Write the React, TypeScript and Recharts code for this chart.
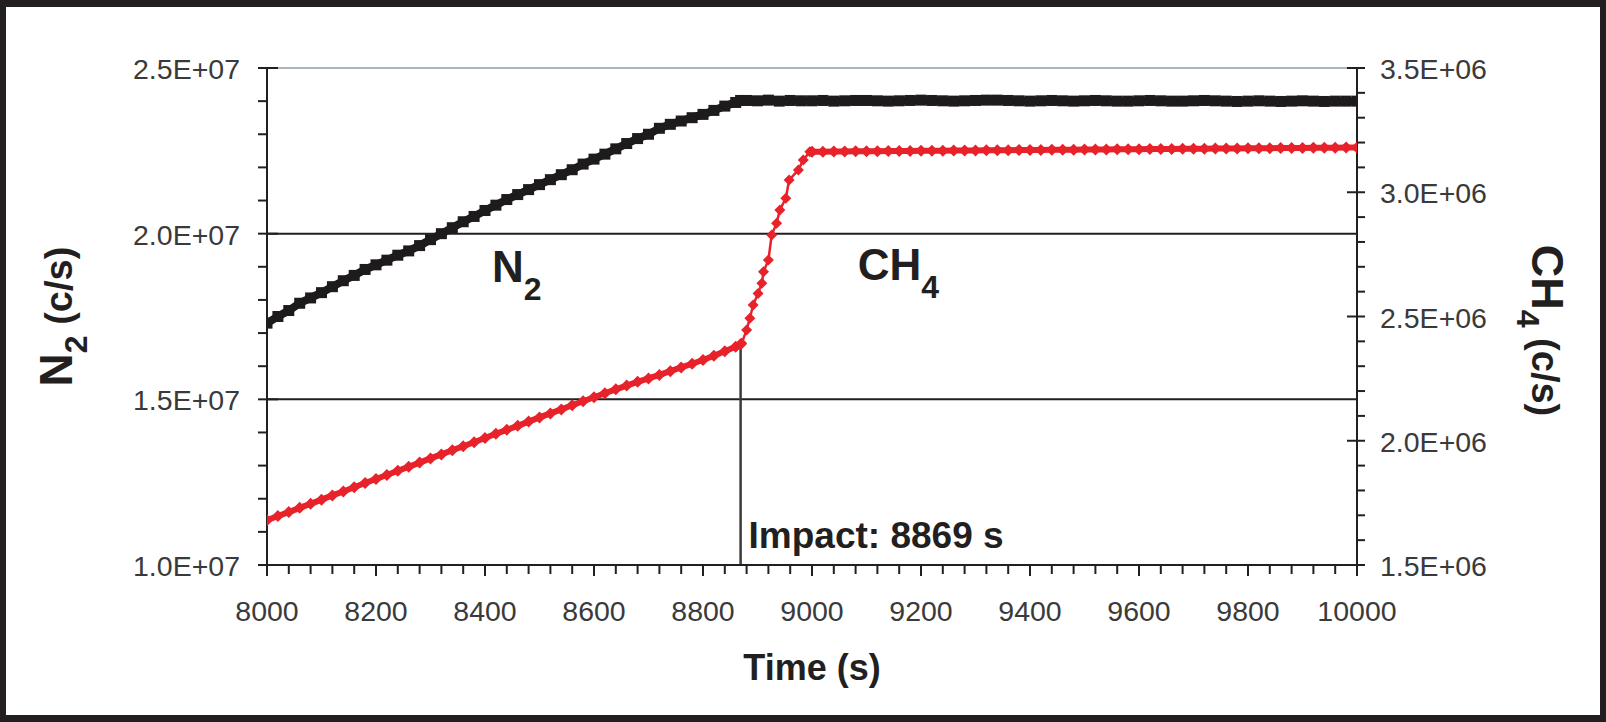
import { LineChart, Line, XAxis, YAxis, CartesianGrid, ReferenceLine, ReferenceDot } from "recharts";

const FONT = '"Liberation Sans", Arial, Helvetica, sans-serif';
const INK = "#231f20";
const TICK_TEXT = "#3a3a3a";
const N2_COLOR = "#1e1b1c";
const CH4_COLOR = "#e8222a";

// sampling times (s)
const sampleTime = [
  8000, 8020, 8040, 8060, 8080, 8100, 8120, 8140, 8160, 8180,
  8200, 8220, 8240, 8260, 8280, 8300, 8320, 8340, 8360, 8380,
  8400, 8420, 8440, 8460, 8480, 8500, 8520, 8540, 8560, 8580,
  8600, 8620, 8640, 8660, 8680, 8700, 8720, 8740, 8760, 8780,
  8800, 8820, 8840, 8860, 8869, 8880, 8900, 8920, 8940, 8960, 8980,
  9000, 9020, 9040, 9060, 9080, 9100, 9120, 9140, 9160, 9180,
  9200, 9220, 9240, 9260, 9280, 9300, 9320, 9340, 9360, 9380,
  9400, 9420, 9440, 9460, 9480, 9500, 9520, 9540, 9560, 9580,
  9600, 9620, 9640, 9660, 9680, 9700, 9720, 9740, 9760, 9780,
  9800, 9820, 9840, 9860, 9880, 9900, 9920, 9940, 9960, 9980,
  10000,
];

// N2 count rate, in units of 1E+07 c/s
const n2E7 = [
  1.730, 1.750, 1.768, 1.790, 1.806, 1.822, 1.840, 1.858, 1.874, 1.892,
  1.906, 1.920, 1.935, 1.948, 1.964, 1.982, 2.000, 2.018, 2.036, 2.052,
  2.070, 2.086, 2.103, 2.118, 2.133, 2.148, 2.163, 2.178, 2.193, 2.210,
  2.225, 2.240, 2.256, 2.272, 2.287, 2.300, 2.318, 2.330, 2.340, 2.350,
  2.360, 2.372, 2.385, 2.396, 2.402, 2.402, 2.401, 2.403, 2.400, 2.402, 2.401,
  2.401, 2.402, 2.400, 2.401, 2.402, 2.402, 2.401, 2.400, 2.401, 2.402,
  2.403, 2.402, 2.401, 2.400, 2.401, 2.402, 2.403, 2.403, 2.402, 2.401,
  2.400, 2.401, 2.402, 2.401, 2.400, 2.401, 2.402, 2.401, 2.400, 2.400,
  2.401, 2.402, 2.401, 2.400, 2.400, 2.401, 2.402, 2.401, 2.400, 2.399,
  2.400, 2.401, 2.400, 2.399, 2.400, 2.401, 2.400, 2.399, 2.400, 2.400,
  2.400,
];

// CH4 count rate, in units of 1E+06 c/s (null where the rise is sampled separately)
const ch4E6 = [
  1.680, 1.697, 1.713, 1.730, 1.746, 1.763, 1.780, 1.796, 1.813, 1.830,
  1.846, 1.862, 1.879, 1.895, 1.912, 1.929, 1.945, 1.962, 1.978, 1.994,
  2.011, 2.028, 2.044, 2.060, 2.077, 2.094, 2.110, 2.126, 2.143, 2.159,
  2.175, 2.191, 2.207, 2.222, 2.237, 2.251, 2.265, 2.280, 2.295, 2.310,
  2.325, 2.342, 2.360, 2.378, 2.388, null, null, null, null, null, null,
  3.163, 3.163, 3.164, 3.164, 3.165, 3.165, 3.165, 3.166, 3.166, 3.166,
  3.167, 3.167, 3.167, 3.168, 3.168, 3.168, 3.169, 3.169, 3.169, 3.170,
  3.170, 3.170, 3.171, 3.171, 3.171, 3.172, 3.172, 3.172, 3.173, 3.173,
  3.173, 3.174, 3.174, 3.174, 3.175, 3.175, 3.175, 3.176, 3.176, 3.176,
  3.177, 3.177, 3.177, 3.178, 3.178, 3.178, 3.179, 3.179, 3.179, 3.180,
  3.180,
];

// CH4 after impact, denser samples
const ch4RiseTime = [8871, 8880, 8886, 8892, 8901, 8908, 8911, 8920, 8926, 8935, 8941, 8952, 8958, 8975, 8984, 8996];
const ch4RiseE6 = [2.392, 2.446, 2.493, 2.546, 2.593, 2.634, 2.680, 2.727, 2.828, 2.875, 2.929, 2.976, 3.049, 3.090, 3.130, 3.163];

const xMajor = [8000, 8200, 8400, 8600, 8800, 9000, 9200, 9400, 9600, 9800, 10000];
const leftMajor = [1.0, 1.5, 2.0, 2.5];
const leftLabels = ["1.0E+07", "1.5E+07", "2.0E+07", "2.5E+07"];
const rightMajor = [1.5, 2.0, 2.5, 3.0, 3.5];
const rightLabels = ["1.5E+06", "2.0E+06", "2.5E+06", "3.0E+06", "3.5E+06"];

const impactTime = 8869;
const plateauStart = 9000;

const withMinor = (major: number[], parts: number) => {
  const out: number[] = [];
  for (let i = 0; i < major.length - 1; i++) {
    const step = (major[i + 1] - major[i]) / parts;
    for (let k = 0; k < parts; k++) out.push(Math.round((major[i] + k * step) * 1000) / 1000);
  }
  out.push(major[major.length - 1]);
  return out;
};

const xTicks = withMinor(xMajor, 5);
const leftTicks = withMinor(leftMajor, 5);
const rightTicks = withMinor(rightMajor, 5);

const findMajor = (list: number[], v: number) => list.findIndex((m) => Math.abs(m - v) < 1e-6);

const n2Data = sampleTime.map((t, i) => ({ t, v: n2E7[i] }));
const ch4All = [
  ...sampleTime.map((t, i) => ({ t, v: ch4E6[i] })).filter((d) => d.v !== null),
  ...ch4RiseTime.map((t, i) => ({ t, v: ch4RiseE6[i] })),
].sort((a, b) => a.t - b.t);
const ch4Before = ch4All.filter((d) => d.t <= impactTime);
const ch4Rise = ch4All.filter((d) => d.t >= impactTime && d.t <= plateauStart);
const ch4After = ch4All.filter((d) => d.t >= plateauStart);
const impactCh4 = ch4Before[ch4Before.length - 1].v as number;

const LeftTick = (props: any) => {
  const { x, y, payload } = props;
  const i = findMajor(leftMajor, payload.value);
  return (
    <g>
      <line x1={x - 9} x2={i >= 0 ? x + 11 : x} y1={y} y2={y} stroke={INK} strokeWidth={2} />
      {i >= 0 && (
        <text x={x - 27} y={y + 11} textAnchor="end" fontFamily={FONT} fontSize={28.5} fill={TICK_TEXT}>
          {leftLabels[i]}
        </text>
      )}
    </g>
  );
};

const RightTick = (props: any) => {
  const { x, y, payload } = props;
  const i = findMajor(rightMajor, payload.value);
  return (
    <g>
      <line x1={i >= 0 ? x - 10 : x} x2={x + 8} y1={y} y2={y} stroke={INK} strokeWidth={2} />
      {i >= 0 && (
        <text x={x + 23} y={y + 11} textAnchor="start" fontFamily={FONT} fontSize={28.5} fill={TICK_TEXT}>
          {rightLabels[i]}
        </text>
      )}
    </g>
  );
};

const BottomTick = (props: any) => {
  const { x, y, payload } = props;
  const i = findMajor(xMajor, payload.value);
  return (
    <g>
      <line x1={x} x2={x} y1={y} y2={y + (i >= 0 ? 11 : 9)} stroke={INK} strokeWidth={2} />
      {i >= 0 && (
        <text x={x} y={y + 56} textAnchor="middle" fontFamily={FONT} fontSize={28.5} fill={TICK_TEXT}>
          {xMajor[i]}
        </text>
      )}
    </g>
  );
};

const SquareDot = (props: any) => {
  const { cx, cy, index } = props;
  if (cx == null || cy == null) return <g key={`n2-${index}`} />;
  return <rect key={`n2-${index}`} x={cx - 5.5} y={cy - 5.5} width={11} height={11} fill={N2_COLOR} />;
};

const makeDiamond = (tag: string, r: number) => (props: any) => {
  const { cx, cy, index } = props;
  if (cx == null || cy == null) return <g key={`${tag}-${index}`} />;
  return (
    <path
      key={`${tag}-${index}`}
      d={`M${cx},${cy - r}L${cx + r},${cy}L${cx},${cy + r}L${cx - r},${cy}Z`}
      fill={CH4_COLOR}
    />
  );
};

const LeftTitle = (props: any) => {
  const vb = props.viewBox || { x: 0, y: 68, width: 267, height: 497 };
  const x = vb.x + 72;
  const y = vb.y + vb.height / 2;
  return (
    <text transform={`rotate(-90, ${x}, ${y})`} x={x} y={y} textAnchor="middle" fontFamily={FONT} fontWeight="bold" fill={INK}>
      <tspan fontSize={46}>N</tspan>
      <tspan fontSize={32} dy={15}>2</tspan>
      <tspan fontSize={38} dy={-15}> (c/s)</tspan>
    </text>
  );
};

const RightTitle = (props: any) => {
  const vb = props.viewBox || { x: 1357, y: 68, width: 249, height: 497 };
  const x = vb.x + 175;
  const y = vb.y + vb.height / 2 + 14;
  return (
    <text transform={`rotate(90, ${x}, ${y})`} x={x} y={y} textAnchor="middle" fontFamily={FONT} fontWeight="bold" fill={INK}>
      <tspan fontSize={45}>CH</tspan>
      <tspan fontSize={32} dy={15}>4</tspan>
      <tspan fontSize={38} dy={-15}> (c/s)</tspan>
    </text>
  );
};

const BottomTitle = (props: any) => {
  const vb = props.viewBox || { x: 267, y: 565, width: 1090, height: 157 };
  return (
    <text x={vb.x + vb.width / 2} y={vb.y + 115} textAnchor="middle" fontFamily={FONT} fontWeight="bold" fontSize={36} fill={INK}>
      Time (s)
    </text>
  );
};

const SeriesLabel = (props: any) => (
  <text x={props.cx} y={props.cy} fontFamily={FONT} fontWeight="bold" fill={INK}>
    <tspan fontSize={44}>{props.main}</tspan>
    <tspan fontSize={32} dy={18}>{props.sub}</tspan>
  </text>
);

const ImpactLabel = (props: any) => (
  <text x={props.cx + 8} y={props.cy} fontFamily={FONT} fontWeight="bold" fontSize={37} fill={INK}>
    Impact: {impactTime} s
  </text>
);

export default function App() {
  return (
    <div style={{ position: "absolute", left: 0, top: 0, width: 1606, height: 722, background: "#fff" }}>
      <div
        style={{
          position: "absolute",
          inset: 0,
          boxSizing: "border-box",
          borderStyle: "solid",
          borderColor: INK,
          borderWidth: "7px 6px 7px 6px",
        }}
      />
      <div style={{ position: "absolute", left: 0, top: 0 }}>
        <LineChart width={1606} height={722} margin={{ top: 68, right: 0, bottom: 0, left: 0 }}>
          <CartesianGrid yAxisId="left" vertical={false} horizontalValues={[1.5, 2.0]} stroke={INK} strokeWidth={2} />
          <CartesianGrid yAxisId="left" vertical={false} horizontalValues={[2.5]} stroke="#8d9ca6" strokeWidth={1.5} />
          <XAxis
            type="number"
            dataKey="t"
            domain={[8000, 10000]}
            ticks={xTicks}
            interval={0}
            height={157}
            tickSize={0}
            tickMargin={0}
            tickLine={false}
            axisLine={{ stroke: INK, strokeWidth: 2 }}
            tick={<BottomTick />}
            allowDataOverflow
            label={{ content: (p: any) => <BottomTitle {...p} /> }}
          />
          <YAxis
            yAxisId="left"
            orientation="left"
            type="number"
            domain={[1.0, 2.5]}
            ticks={leftTicks}
            interval={0}
            width={267}
            tickSize={0}
            tickMargin={0}
            tickLine={false}
            axisLine={{ stroke: INK, strokeWidth: 2 }}
            tick={<LeftTick />}
            allowDataOverflow
            label={{ content: (p: any) => <LeftTitle {...p} /> }}
          />
          <YAxis
            yAxisId="right"
            orientation="right"
            type="number"
            domain={[1.5, 3.5]}
            ticks={rightTicks}
            interval={0}
            width={249}
            tickSize={0}
            tickMargin={0}
            tickLine={false}
            axisLine={{ stroke: INK, strokeWidth: 2 }}
            tick={<RightTick />}
            allowDataOverflow
            label={{ content: (p: any) => <RightTitle {...p} /> }}
          />
          <ReferenceLine
            yAxisId="right"
            segment={[
              { x: impactTime, y: 1.5 },
              { x: impactTime, y: impactCh4 },
            ]}
            stroke="#3a3a3a"
            strokeWidth={2.5}
          />
          <Line
            yAxisId="left"
            data={n2Data}
            dataKey="v"
            stroke={N2_COLOR}
            strokeWidth={8}
            dot={SquareDot}
            activeDot={false}
            isAnimationActive={false}
          />
          <Line
            yAxisId="right"
            data={ch4Before}
            dataKey="v"
            stroke={CH4_COLOR}
            strokeWidth={6}
            dot={makeDiamond("ch4a", 6)}
            activeDot={false}
            isAnimationActive={false}
          />
          <Line
            yAxisId="right"
            data={ch4Rise}
            dataKey="v"
            stroke={CH4_COLOR}
            strokeWidth={2.5}
            dot={makeDiamond("ch4b", 5.5)}
            activeDot={false}
            isAnimationActive={false}
          />
          <Line
            yAxisId="right"
            data={ch4After}
            dataKey="v"
            stroke={CH4_COLOR}
            strokeWidth={6}
            dot={makeDiamond("ch4c", 6)}
            activeDot={false}
            isAnimationActive={false}
          />
          <ReferenceDot yAxisId="left" x={8413} y={1.854} r={0} shape={(p: any) => <SeriesLabel {...p} main="N" sub="2" />} />
          <ReferenceDot yAxisId="left" x={9084} y={1.86} r={0} shape={(p: any) => <SeriesLabel {...p} main="CH" sub="4" />} />
          <ReferenceDot yAxisId="right" x={impactTime} y={1.568} r={0} shape={(p: any) => <ImpactLabel {...p} />} />
        </LineChart>
      </div>
    </div>
  );
}
